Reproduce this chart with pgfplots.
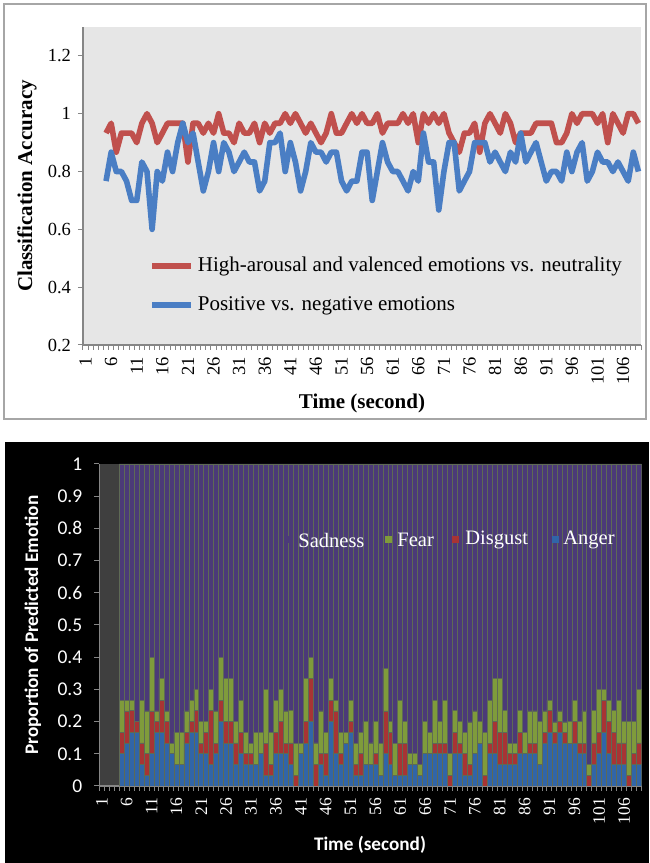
\documentclass[border=0pt]{standalone}
\usepackage{fontspec}
\setmainfont{Liberation Serif}
\newfontfamily\calibri{Carlito}
\usepackage{pgfplots}
\usepackage{pgfplotstable}
\pgfplotsset{compat=1.18}

\definecolor{plotbg}{HTML}{E6E6E6}
\definecolor{accred}{HTML}{C0504D}
\definecolor{accblue}{HTML}{4A7EC4}
\definecolor{framegray}{HTML}{A6A6A6}
\definecolor{axisgray}{HTML}{868686}
\definecolor{darkbg}{HTML}{3F3F3F}
\definecolor{sad}{HTML}{4B3A78}
\definecolor{fear}{HTML}{7F9B3B}
\definecolor{disg}{HTML}{A83434}
\definecolor{ang}{HTML}{3165A8}
\definecolor{sepcol}{HTML}{5E6A55}

% classification accuracy per second (c = time index)
\pgfplotstableread{
c r b
5 0.933 0.767
6 0.967 0.867
7 0.867 0.8
8 0.933 0.8
9 0.933 0.767
10 0.933 0.7
11 0.9 0.7
12 0.967 0.833
13 1.0 0.8
14 0.967 0.6
15 0.9 0.8
16 0.933 0.767
17 0.967 0.867
18 0.967 0.8
19 0.967 0.9
20 0.967 0.967
21 0.833 0.9
22 0.967 0.933
23 0.967 0.833
24 0.933 0.733
25 0.967 0.8
26 0.933 0.9
27 1.0 0.8
28 0.933 0.9
29 0.933 0.867
30 0.9 0.8
31 0.967 0.833
32 0.933 0.867
33 0.933 0.833
34 0.967 0.833
35 0.9 0.733
36 0.967 0.767
37 0.933 0.9
38 0.967 0.9
39 0.967 0.933
40 1.0 0.8
41 0.967 0.9
42 1.0 0.833
43 0.967 0.733
44 0.933 0.8
45 0.967 0.9
46 0.933 0.867
47 0.9 0.867
48 0.933 0.833
49 1.0 0.867
50 0.933 0.867
51 0.933 0.767
52 0.967 0.733
53 1.0 0.767
54 0.967 0.767
55 1.0 0.867
56 0.967 0.867
57 0.967 0.7
58 1.0 0.8
59 0.933 0.9
60 0.967 0.833
61 0.967 0.8
62 0.967 0.8
63 1.0 0.767
64 0.967 0.733
65 1.0 0.8
66 0.9 0.767
67 1.0 0.933
68 0.967 0.833
69 1.0 0.833
70 0.967 0.667
71 1.0 0.8
72 0.933 0.9
73 0.9 0.9
74 0.867 0.733
75 0.933 0.767
76 0.933 0.8
77 0.967 0.9
78 0.867 0.9
79 0.967 0.9
80 1.0 0.833
81 0.967 0.867
82 0.933 0.833
83 1.0 0.8
84 0.967 0.867
85 0.9 0.833
86 0.933 0.933
87 0.933 0.833
88 0.933 0.867
89 0.967 0.9
90 0.967 0.833
91 0.967 0.767
92 0.967 0.8
93 0.9 0.8
94 0.9 0.767
95 0.933 0.867
96 1.0 0.8
97 0.967 0.867
98 1.0 0.9
99 1.0 0.767
100 1.0 0.8
101 0.967 0.867
102 1.0 0.833
103 0.9 0.833
104 1.0 0.8
105 0.967 0.833
106 0.933 0.8
107 1.0 0.767
108 1.0 0.867
109 0.967 0.8
}\acc

% proportions: A anger, D disgust, F fear, S sadness
\pgfplotstableread{
c A D F S
5 0.1 0.067 0.1 0.733
6 0.133 0.1 0.033 0.734
7 0.167 0.067 0.033 0.733
8 0.167 0.033 0 0.8
9 0.067 0.067 0.133 0.733
10 0.033 0.067 0.133 0.767
11 0.1 0.133 0.167 0.6
12 0.167 0.033 0.033 0.767
13 0.167 0.1 0.067 0.666
14 0.133 0.067 0.033 0.767
15 0.1 0 0.033 0.867
16 0.067 0 0.1 0.833
17 0.067 0 0.1 0.833
18 0.133 0.033 0.067 0.767
19 0.167 0.033 0.067 0.733
20 0.167 0.067 0.067 0.699
21 0.1 0.033 0.067 0.8
22 0.1 0.067 0.033 0.8
23 0.067 0.167 0.067 0.699
24 0.1 0.033 0.1 0.767
25 0.2 0.067 0.133 0.6
26 0.133 0.067 0.133 0.667
27 0.133 0.067 0.133 0.667
28 0.067 0.067 0.067 0.799
29 0.1 0.067 0.1 0.733
30 0.067 0.033 0.067 0.833
31 0.067 0.033 0.033 0.867
32 0.067 0 0.1 0.833
33 0.1 0 0.067 0.833
34 0.033 0.1 0.167 0.7
35 0.033 0.033 0.1 0.834
36 0.1 0.067 0.1 0.733
37 0.1 0.1 0.1 0.7
38 0.1 0.033 0.1 0.767
39 0.067 0.067 0.1 0.766
40 0 0.033 0.1 0.867
41 0.1 0 0.033 0.867
42 0.133 0.067 0.133 0.667
43 0.2 0.133 0.067 0.6
44 0 0.067 0.067 0.866
45 0.067 0.033 0.133 0.767
46 0.033 0.067 0.067 0.833
47 0.2 0.067 0.067 0.666
48 0.1 0.133 0.033 0.734
49 0.067 0.033 0.067 0.833
50 0.133 0 0.033 0.834
51 0.167 0.033 0.067 0.733
52 0.033 0.033 0.067 0.867
53 0.033 0.067 0.067 0.833
54 0.067 0 0.133 0.8
55 0.067 0 0.067 0.866
56 0.067 0.033 0.1 0.8
57 0.033 0 0.1 0.867
58 0.1 0.133 0.133 0.634
59 0.067 0.1 0.033 0.8
60 0.033 0 0.1 0.867
61 0.033 0.1 0.133 0.734
62 0.033 0.1 0.067 0.8
63 0.067 0 0.033 0.9
64 0.067 0 0.033 0.9
65 0.033 0 0.033 0.934
66 0.1 0 0.1 0.8
67 0.1 0 0.067 0.833
68 0.1 0.033 0.133 0.734
69 0.1 0.033 0.067 0.8
70 0.1 0.033 0.133 0.734
71 0 0.033 0.067 0.9
72 0.1 0.067 0.067 0.766
73 0.1 0.033 0.067 0.8
74 0.033 0.067 0.067 0.833
75 0.033 0.033 0.133 0.801
76 0.1 0 0.133 0.767
77 0.133 0 0.067 0.8
78 0 0.033 0.133 0.834
79 0.1 0.033 0.133 0.734
80 0.1 0.1 0.133 0.667
81 0.067 0.1 0.167 0.666
82 0.067 0.1 0.067 0.766
83 0.067 0.033 0.033 0.867
84 0.067 0.033 0.033 0.867
85 0.1 0.067 0.067 0.766
86 0.1 0 0.067 0.833
87 0.1 0.033 0.1 0.767
88 0.1 0.033 0.1 0.767
89 0.067 0 0.133 0.8
90 0.133 0.033 0.067 0.767
91 0.167 0.067 0.033 0.733
92 0.133 0.033 0.033 0.801
93 0.167 0.033 0.033 0.767
94 0.133 0.033 0.033 0.801
95 0.133 0 0.067 0.8
96 0.133 0.067 0.067 0.733
97 0.1 0.033 0.067 0.8
98 0.1 0.033 0.1 0.767
99 0 0.033 0.033 0.934
100 0.067 0.067 0.1 0.766
101 0.1 0.067 0.133 0.7
102 0.167 0.1 0.033 0.7
103 0.1 0.1 0.067 0.733
104 0.067 0.1 0.067 0.766
105 0.067 0.067 0.133 0.733
106 0.067 0.067 0.067 0.799
107 0 0.033 0.167 0.8
108 0.067 0.033 0.1 0.8
109 0.067 0.067 0.167 0.699
}\emo

\begin{document}
\begin{tikzpicture}
\path[use as bounding box, fill=white] (0,0) rectangle (324.5pt,431.5pt);
% panel frames
\draw[framegray, line width=1pt] (2pt,222pt) rectangle (323pt,429.5pt);
\fill[black] (2.5pt,0pt) rectangle (324.5pt,210.5pt);

% ---- top: classification accuracy ----
\begin{axis}[
    at={(41.5pt,259pt)}, anchor=south west,
    scale only axis, width=279pt, height=159pt,
    xmin=0.5, xmax=109.5, ymin=0.2, ymax=1.3,
    axis x line*=bottom, axis y line*=left,
    axis line style={draw=axisgray, line width=0.6pt, -},
    axis background/.style={fill=plotbg},
    tick align=outside, major tick length=2.5pt,
    tick style={draw=axisgray, line width=0.5pt},
    ytick={0.2,0.4,0.6,0.8,1,1.2},
    xtick={0.5,1.5,...,109.5}, xticklabels={},
    extra x ticks={1,6,...,106},
    extra x tick labels={1,6,11,16,21,26,31,36,41,46,51,56,61,66,71,76,81,86,91,96,101,106},
    extra x tick style={tick style={draw=none}},
    /pgf/number format/assume math mode=true,
    yticklabel style={font=\fontsize{9.25}{10}\selectfont},
    xticklabel style={font=\fontsize{9.25}{10}\selectfont, rotate=90, anchor=east},
    legend style={draw=none, fill=none, at={(0.118,0.29)}, anchor=north west,
        font=\fontsize{10.5}{12}\selectfont, row sep=7pt, inner sep=0pt},
    legend cell align=left,
    legend image code/.code={\draw[#1] (0pt,0pt) -- (19.5pt,0pt);},
]
\addplot[accred, line width=2.8pt, line join=round] table[x=c, y=r] {\acc};
\addlegendentry{High-arousal and valenced emotions vs. neutrality}
\addplot[accblue, line width=2.8pt, line join=round] table[x=c, y=b] {\acc};
\addlegendentry{Positive vs. negative emotions}
\end{axis}
\node[rotate=90, font=\fontsize{10.5}{12}\selectfont\bfseries] at (13.5pt,338.5pt) {Classification Accuracy};
\node[font=\fontsize{10.5}{12}\selectfont\bfseries] at (181pt,230pt) {Time (second)};

% ---- bottom: proportion of predicted emotion ----
\begin{axis}[
    at={(49.65pt,38.5pt)}, anchor=south west,
    scale only axis, width=271.1pt, height=161pt,
    xmin=0.5, xmax=109.5, ymin=0, ymax=1,
    ybar stacked, bar width=1,
    axis x line*=bottom, axis y line*=left,
    axis line style={draw=axisgray, line width=0.6pt, -},
    axis background/.style={fill=darkbg},
    tick align=outside, major tick length=2.5pt,
    tick style={draw=axisgray, line width=0.5pt},
    ytick={0,0.1,...,1},
    xtick={0.5,1.5,...,109.5}, xticklabels={},
    extra x ticks={1,6,...,106},
    extra x tick labels={1,6,11,16,21,26,31,36,41,46,51,56,61,66,71,76,81,86,91,96,101,106},
    extra x tick style={tick style={draw=none}},
    /pgf/number format/assume math mode=true,
    yticklabel style={font=\calibri\fontsize{9.75}{10}\selectfont, text=white, xshift=-2.5pt},
    xticklabel style={font=\fontsize{8.75}{10}\selectfont, rotate=90, anchor=east, text=white},
]
\addplot[fill=ang, draw=sepcol, line width=0.3pt] table[x=c, y=A] {\emo};
\addplot[fill=disg, draw=sepcol, line width=0.3pt] table[x=c, y=D] {\emo};
\addplot[fill=fear, draw=sepcol, line width=0.3pt] table[x=c, y=F] {\emo};
\addplot[fill=sad, draw=sepcol, line width=0.3pt] table[x=c, y=S] {\emo};
\end{axis}
% legend of the stacked bars
\begin{scope}[font=\fontsize{10.25}{12}\selectfont, text=white]
\fill[sad] (141.75pt,159.75pt) rectangle ++(3.5pt,3.5pt);
\node[anchor=west, inner sep=0pt] at (149pt,161.5pt) {Sadness};
\fill[fear] (192.25pt,159.75pt) rectangle ++(3.5pt,3.5pt);
\node[anchor=west, inner sep=0pt] at (198.5pt,161.5pt) {Fear};
\fill[disg] (225.75pt,159.75pt) rectangle ++(3.5pt,3.5pt);
\node[anchor=west, inner sep=0pt] at (232.5pt,161.5pt) {Disgust};
\fill[ang] (275.75pt,159.75pt) rectangle ++(3.5pt,3.5pt);
\node[anchor=west, inner sep=0pt] at (281.5pt,161.5pt) {Anger};
\end{scope}
\node[rotate=90, text=white, font=\calibri\fontsize{9.6}{11}\selectfont\bfseries] at (16.5pt,119pt) {Proportion of Predicted Emotion};
\node[text=white, font=\calibri\fontsize{9.6}{11}\selectfont\bfseries] at (185pt,9pt) {Time (second)};
\end{tikzpicture}
\end{document}
